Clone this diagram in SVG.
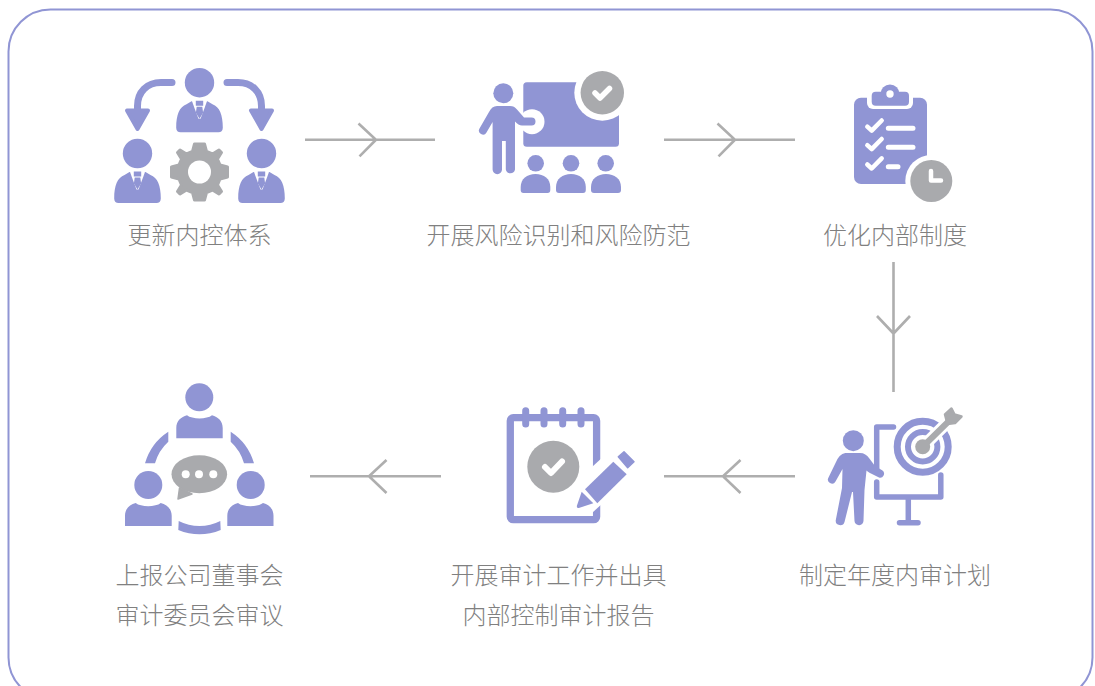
<svg xmlns="http://www.w3.org/2000/svg" width="1095" height="686" viewBox="0 0 1095 686">
<style>
.p{fill:#9095d4}
.g{fill:#a9aaad}
.w{fill:#fff}
.ps{stroke:#9095d4;fill:none;stroke-linecap:round;stroke-linejoin:round}
.ws{stroke:#fff;fill:none;stroke-linecap:round;stroke-linejoin:round}
.gs{stroke:#a9aaad;fill:none;stroke-linecap:round;stroke-linejoin:round}
.c{stroke:#aeaeae;stroke-width:2.6;fill:none}
text{font-family:"Noto Sans CJK SC","Noto Sans",sans-serif;font-size:24px;font-weight:200;fill:#808080;text-anchor:middle}
</style>
<defs>
<g id="suit">
<circle cx="0" cy="0" r="14.700" class="p"/>
<path class="p" d="M-23.300 45C-23.300 32-20 24-13 21.500L-8 18.500H8L13 21.500C20 24 23.300 32 23.300 45C23.300 48 21.500 49.600 19 49.600H-19C-21.500 49.600-23.300 48-23.300 45Z"/>
<path class="w" d="M-8 17H8L5.500 24L1 36H-1L-5.500 24Z"/>
<path class="p" d="M-3.700 18H3.700V23H-3.700ZM-2.800 24H2.800L3.600 30L0 36L-3.600 30Z"/>
</g>
<path id="check" d="M-7 0L-2 5L7.500-4.500" class="ws" stroke-width="5.500"/>
</defs>
<rect x="8.500" y="9.500" width="1084" height="690" rx="42" ry="42" fill="#fff" stroke="#9095d4" stroke-width="2"/>

<g id="connectors">
<path class="c" d="M305 139.700H435M358.500 123.500L376 139.700L359.500 156.300"/>
<path class="c" d="M664 139.700H795M717.500 123.500L735 139.700L718.500 156.300"/>
<path class="c" d="M893.500 262V392M877 316L893.500 333.500L910 316"/>
<path class="c" d="M795 476.300H664M740.500 460L723 476.300L740.500 493"/>
<path class="c" d="M441 476.300H310M386.500 460L369 476.300L386.500 493"/>
</g>

<g id="node1">
<use href="#suit" x="199.500" y="82.700"/>
<use href="#suit" x="137.500" y="153.500"/>
<use href="#suit" x="261.500" y="153.500"/>
<path class="ps" stroke-width="7" d="M172 82.500H161C147 82.500 137.500 92 137.500 106V112"/>
<path class="ps" stroke-width="7" d="M227 82.500H238C252 82.500 261.500 92 261.500 106V112"/>
<path class="p" stroke="#9095d4" stroke-width="4" stroke-linejoin="round" d="M127 110.500H148L137.500 129Z"/>
<path class="p" stroke="#9095d4" stroke-width="4" stroke-linejoin="round" d="M251 110.500H272L261.500 129Z"/>
<g transform="translate(199.500 172)">
<path class="g" stroke="#a9aaad" stroke-width="3" stroke-linejoin="round" d="M-5-28H5L7-20.500L13-18L19.500-22L22-19.500L18-13L20.500-7L28-5V5L20.500 7L18 13L22 19.500L19.500 22L13 18L7 20.500L5 28H-5L-7 20.500L-13 18L-19.500 22L-22 19.500L-18 13L-20.500 7L-28 5V-5L-20.500-7L-18-13L-22-19.500L-19.500-22L-13-18L-7-20.500Z"/>
<circle r="11.500" class="w"/>
</g>
<text x="199.500" y="244">更新内控体系</text>
</g>

<g id="node2">
<rect x="523.300" y="82.300" width="95.700" height="64.400" rx="3.500" class="p"/>
<circle cx="602.300" cy="92.700" r="28" class="w"/>
<circle cx="602.300" cy="92.700" r="21.700" class="g"/>
<use href="#check" x="602" y="93"/>
<circle cx="532" cy="121.700" r="12.500" class="w"/>
<circle cx="503.300" cy="93.300" r="10" class="p"/>
<path class="p" d="M497 106H510C513 106 515 107 517 109.500L524 117.500H531.500A4 4 0 0 1 531.500 125.500H522C519.500 125.500 517.500 124 515 121.500V169.500A4.700 4.700 0 0 1 505.800 169.500V141H502V169.500A4.700 4.700 0 0 1 492.600 169.500V122L486.500 132.500A4 4 0 0 1 479.500 128.500L489 112C491 108 493.500 106 497 106Z"/>
<circle cx="535.700" cy="163.300" r="8.300" class="p"/>
<circle cx="571" cy="163.300" r="8.300" class="p"/>
<circle cx="605.700" cy="163.300" r="8.300" class="p"/>
<path class="p" d="M520.700 190V187C520.700 179 527 174 535.500 174S550.300 179 550.300 187V190Q550.300 193 547.500 193H523.500Q520.700 193 520.700 190Z"/>
<path class="p" d="M556 190V187C556 179 562.500 174 571 174S585.800 179 585.800 187V190Q585.800 193 583 193H559Q556 193 556 190Z"/>
<path class="p" d="M591 190V187C591 179 597.500 174 606 174S621 179 621 187V190Q621 193 618 193H594Q591 193 591 190Z"/>
<text x="558.500" y="244">开展风险识别和风险防范</text>
</g>

<g id="node3">
<rect x="854" y="97.700" width="73" height="86.300" rx="7" class="p"/>
<rect x="867" y="88" width="46" height="21" rx="6" class="w"/>
<circle cx="890" cy="94" r="13" class="w"/>
<rect x="871.700" y="91.700" width="37.300" height="14" rx="4" class="p"/>
<circle cx="890" cy="94" r="9.500" class="p"/>
<circle cx="890" cy="94" r="3.700" class="w"/>
<path class="ws" stroke-width="4.500" d="M867.300 126.700L871.700 130.700L881.700 120.500M867.300 145.200L871.700 149.200L881.700 139M867.300 164.500L871.700 168.500L881.700 158.300"/>
<path class="ws" stroke-width="5" d="M888.300 128.300H913M888.300 147.300H913M888.300 166.700H898"/>
<circle cx="931.300" cy="181" r="26" class="w"/>
<circle cx="931.300" cy="181" r="21" class="g"/>
<path class="ws" stroke-width="4.500" d="M931 171V180.500H941"/>
<text x="895" y="244">优化内部制度</text>
</g>

<g id="node4">
<circle cx="922.700" cy="446.700" r="25.500" fill="none" stroke="#9095d4" stroke-width="7"/>
<circle cx="922.700" cy="446.700" r="14.700" fill="none" stroke="#9095d4" stroke-width="6"/>
<path class="ws" stroke-width="12" d="M923 446.500L953 417"/>
<path class="gs" stroke-width="6" d="M923 446.500L950 420"/>
<circle cx="922.700" cy="446.700" r="7.500" class="g"/>
<path class="g" stroke="#a9aaad" stroke-width="2.500" stroke-linejoin="round" d="M945 414.500L951.500 408.500L954.500 414.500L961.500 416.500L955 423L947.500 424Z"/>
<path class="ps" stroke-width="5.500" stroke-linecap="butt" d="M893.500 426.900H876.700V470M876.700 482V496.900H940.800V475M908.300 497V522"/>
<path class="ps" stroke-width="5.500" d="M899.500 522.700H918"/>
<circle cx="853.300" cy="440.700" r="10.500" class="p"/>
<path class="p" d="M847 453H860C864 453 867 455 869 458L875 466L882.500 470.500A4 4 0 0 1 879 477.500L871 473.500C869.500 472.800 868 472 866.500 470.500L864.500 490L863.500 520.500A4.500 4.500 0 0 1 854.500 521L853 492H852L844.500 522A4.500 4.500 0 0 1 835.700 520.500L842 488L842.500 469L835.500 481.500A4 4 0 0 1 828.500 477.500L836.500 461C839 455.500 842.500 453 847 453Z"/>
<text x="895" y="584">制定年度内审计划</text>
</g>

<g id="node5">
<rect x="510.300" y="417.700" width="86.300" height="102" rx="3" fill="none" stroke="#9095d4" stroke-width="7.300"/>
<path class="w" d="M592 467L604 456V502L592 513Z"/>
<path class="ps" stroke-width="7" d="M525.700 410.700V424M544 410.700V424M562.700 410.700V424M581 410.700V424"/>
<circle cx="553.300" cy="466.700" r="26" class="g"/>
<path class="ws" stroke-width="6" d="M545 467L551 473L562 461.500"/>
<path class="p" d="M585 489.300L613.300 461.700L626.700 474.300L597.300 503.300Z"/>
<path class="p" d="M618.300 456.700L624 451.700L634 461.700L627.700 467.700Z" stroke="#9095d4" stroke-width="1.500" stroke-linejoin="round"/>
<path class="p" d="M581.700 491.700L593.300 503.300L578.800 508Q576.500 508.500 576.800 506Z"/>
<text x="558.500" y="584">开展审计工作并出具</text>
<text x="558.500" y="624">内部控制审计报告</text>
</g>

<g id="node6">
<circle cx="199.300" cy="397.300" r="14" class="p"/>
<path class="p" d="M176.300 438.300V428C176.300 421 181 417 187 415.300C192 419.500 207 419.500 212 415.300C218 417 222.700 421 222.700 428V438.300Z"/>
<circle cx="148.300" cy="485" r="14" class="p"/>
<path class="p" d="M125 526V515.700C125 508.700 129.700 504.700 135.700 503C140.700 507.200 155.700 507.200 160.700 503C166.700 504.700 171.700 508.700 171.700 515.700V526Z"/>
<circle cx="250.700" cy="485" r="14" class="p"/>
<path class="p" d="M227.300 526V515.700C227.300 508.700 232 504.700 238 503C243 507.200 258 507.200 263 503C269 504.700 273.500 508.700 273.500 515.700V526Z"/>
<path class="p" d="M168.300 431.700V441.700A46 46 0 0 0 155 463.300H145A56 56 0 0 1 168.300 431.700Z"/>
<path class="p" d="M230.700 431.700V441.700A46 46 0 0 1 244 463.300H254A56 56 0 0 0 230.700 431.700Z"/>
<path class="p" d="M178.700 521A46 46 0 0 0 220.300 521L220.700 530A56 56 0 0 1 178.300 530Z"/>
<ellipse cx="199.300" cy="474.300" rx="27.800" ry="19" class="g"/>
<path class="g" stroke="#a9aaad" stroke-width="1.500" stroke-linejoin="round" d="M179.500 488L178 499L192 494Z"/>
<circle cx="185.700" cy="474.300" r="4" class="w"/>
<circle cx="199" cy="474.300" r="4" class="w"/>
<circle cx="213.300" cy="474.300" r="4" class="w"/>
<text x="199.500" y="584">上报公司董事会</text>
<text x="199.500" y="624">审计委员会审议</text>
</g>
</svg>
